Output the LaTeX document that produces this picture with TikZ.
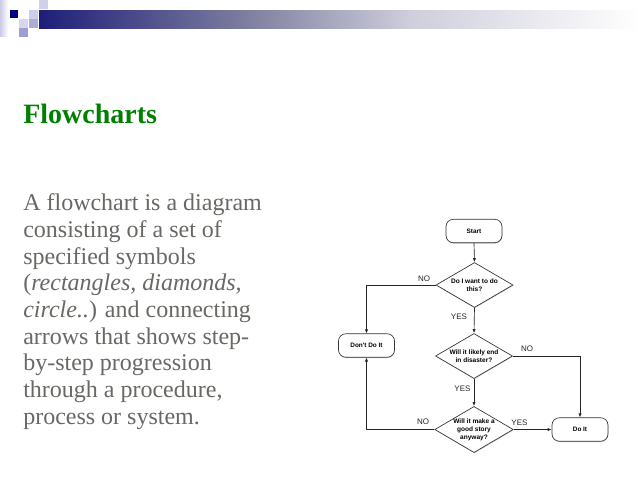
\documentclass[tikz,border=0pt]{standalone}
\usepackage{fontspec}
\setmainfont{Liberation Serif}
\newfontfamily\fcsans{Liberation Sans}
\usetikzlibrary{shapes.geometric,arrows.meta,shadows}
\definecolor{navyA}{RGB}{30,30,122}
\definecolor{midB}{RGB}{128,128,160}
\definecolor{midC}{RGB}{206,206,220}
\definecolor{navySq}{RGB}{0,0,128}
\definecolor{lavL}{RGB}{214,214,238}
\definecolor{lavM}{RGB}{158,158,208}
\definecolor{titlegreen}{RGB}{0,128,0}
\definecolor{bodygray}{RGB}{104,104,100}
\begin{document}
\begin{tikzpicture}[x=0.75pt,y=-0.75pt,
  box/.style={draw=black!80, line width=0.5pt, rounded corners=5.5pt,
    minimum width=42pt, minimum height=17.6pt, inner sep=0pt, fill=white,
    font=\fcsans\bfseries\fontsize{4.8}{5.8}\selectfont,
    drop shadow={shadow xshift=0.3pt, shadow yshift=-0.6pt, fill=black!40}},
  dia/.style={diamond, aspect=1.7, draw=black!80, line width=0.5pt,
    inner sep=0pt, minimum width=57.75pt, minimum height=33.75pt,
    align=center, fill=white,
    font=\fcsans\bfseries\fontsize{4.9}{5.9}\selectfont,
    drop shadow={shadow xshift=0.3pt, shadow yshift=-0.6pt, fill=black!40}},
  conn/.style={draw=black!85, line width=0.5pt, -{Latex[length=3pt,width=2.4pt]}},
  lbl/.style={font=\fcsans\fontsize{6}{6.5}\selectfont, inner sep=0pt, text=black!85},
  body/.style={anchor=base west, inner sep=0pt, text=bodygray,
    font=\fontsize{18}{20}\selectfont}
]
\useasboundingbox (0,0) rectangle (640,480);
\fill[white] (0,0) rectangle (640,480);

% banner
\shade[left color=lavL!80!lavM, right color=white] (0,0) rectangle (8,36);
\shade[left color=navyA, right color=midB] (39,10) rectangle (251,28);
\shade[left color=midB, right color=midC] (250,10) rectangle (411,28);
\shade[left color=midC, right color=white] (410,10) rectangle (640,28);
\fill[navySq] (9.5,10) rectangle (17.5,18);
\fill[lavL] (19,19) rectangle (28,28);
\fill[lavM] (19,28) rectangle (28,37);
\fill[lavL!85!lavM] (29,10) rectangle (38,19);
\fill[lavM!85!white] (29,19) rectangle (38,28);
\fill[lavL!90!lavM] (39,0) rectangle (48,9);

% title
\node[anchor=base west, inner sep=0pt, text=titlegreen,
  font=\bfseries\fontsize{21}{24}\selectfont] (title) at (23,123) {Flowcharts};

% body text
\node[body] (l1) at (23,210.7) {A flowchart is a diagram};
\node[body] (l2) at (23,237.3) {consisting of a set of};
\node[body] (l3) at (23,264) {specified symbols};
\node[body] (l4) at (23,290.7) {(\textit{rectangles, diamonds,}};
\node[body] (l5) at (23,317.3) {\textit{circle..}) and connecting};
\node[body] (l6) at (23,344) {arrows that shows step-};
\node[body] (l7) at (23,370.7) {by-step progression};
\node[body] (l8) at (23,397.3) {through a procedure,};
\node[body] (l9) at (23,424) {process or system.};

% flowchart
\node[box] (start) at (474,231) {Start};
\node[dia] (d1) at (474.5,285) {Do I want to do\\this?};
\node[dia] (d2) at (474,356) {Will it likely end\\in disaster?};
\node[dia] (d3) at (474,429.5) {Will it make a\\good story\\anyway?};
\node[box] (dont) at (366.5,345.5) {Don't Do It};
\node[box] (doit) at (580,429.5) {Do It};

\draw[conn] (start.south) -- (d1.north);
\draw[conn] (d1.west) -| (dont.north);
\draw[conn] (d1.south) -- (d2.north);
\draw[conn] (d2.east) -| (doit.north);
\draw[conn] (d2.south) -- (d3.north);
\draw[conn] (d3.west) -| (dont.south);
\draw[conn] (d3.east) -- (doit.west);

\node[lbl] (no1) at (424,279) {NO};
\node[lbl] (yes1) at (459,317) {YES};
\node[lbl] (no2) at (527,349) {NO};
\node[lbl] (yes2) at (462.5,389) {YES};
\node[lbl] (no3) at (423,422) {NO};
\node[lbl] (yes3) at (519.5,423) {YES};
\end{tikzpicture}
\end{document}
